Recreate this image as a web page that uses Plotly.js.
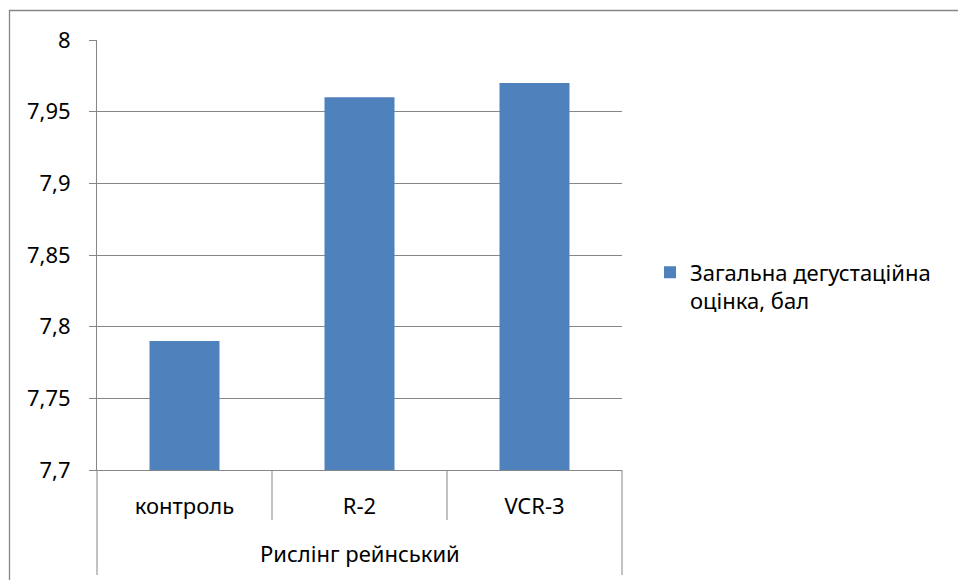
<!DOCTYPE html>
<html>
<head>
<meta charset="utf-8">
<script src="https://cdn.plot.ly/plotly-3.0.1.min.js"></script>
<style>html,body{margin:0;padding:0;background:#fff;}#chart{width:958px;height:580px;}</style>
</head>
<body>
<div id="chart"></div>
<script>
const groupLabel = "Рислінг рейнський";
const categories = ["контроль", "R-2", "VCR-3"];
const values = [7.79, 7.96, 7.97];
const seriesName = "Загальна дегустаційна<br>оцінка, бал";

const W = 958, H = 580;
const M = {l: 97, r: 336, t: 40, b: 110};
const PW = W - M.l - M.r, PH = H - M.t - M.b;
const px = v => v / PW;   // horizontal pixels -> paper
const py = v => v / PH;   // vertical pixels -> paper
const FONT = "'Noto Sans', 'Open Sans', sans-serif";
const GRID = "#868686";

const shapes = [];
// inner category dividers (between categories)
for (let i = 1; i < categories.length; i++) {
  shapes.push({type: "line", xref: "x", yref: "paper", x0: i - 0.5, x1: i - 0.5,
    y0: 0, y1: -py(50), line: {color: GRID, width: 1}});
}
// outer group dividers
[0, 1].forEach(x => shapes.push({type: "line", xref: "paper", yref: "paper",
  x0: x, x1: x, y0: 0, y1: -py(105), line: {color: GRID, width: 1}}));
// chart frame
shapes.push({type: "rect", xref: "paper", yref: "paper",
  x0: -px(M.l - 9.5), x1: px(W + 5 - M.l), y0: -py(H + 5 - M.t - PH), y1: 1 + py(M.t - 10.5),
  line: {color: GRID, width: 1.3}, fillcolor: "rgba(0,0,0,0)"});

const data = [{
  type: "bar", x: categories, y: values, name: seriesName,
  marker: {color: "#4F81BD"}, showlegend: true, hoverinfo: "none"
}];

const layout = {
  width: W, height: H,
  margin: M,
  paper_bgcolor: "#fff", plot_bgcolor: "#fff",
  separators: ", ",
  font: {family: FONT, size: 22, color: "#000"},
  bargap: 0.6,
  showlegend: true,
  legend: {x: px(650 - M.l), xanchor: "left", y: 1 - py(287 - M.t), yanchor: "middle",
    valign: "top",
    font: {family: FONT, size: 22, color: "#000"}, bgcolor: "rgba(0,0,0,0)",
    itemwidth: 30, tracegroupgap: 0},
  xaxis: {type: "category", showgrid: false, showline: true, linecolor: GRID, linewidth: 1,
    ticks: "", tickfont: {family: FONT, size: 22}, ticklabelstandoff: 17, fixedrange: true},
  yaxis: {range: [7.7, 8], dtick: 0.05, tick0: 7.7, showgrid: true, gridcolor: GRID, gridwidth: 1,
    showline: true, linecolor: GRID, linewidth: 1, ticks: "outside", ticklen: 7, tickcolor: GRID,
    tickfont: {family: FONT, size: 22}, ticklabelstandoff: 14, zeroline: false, fixedrange: true},
  shapes: shapes,
  annotations: [{text: groupLabel, xref: "paper", yref: "paper", x: 0.5, y: -py(553 - M.t - PH),
    xanchor: "center", yanchor: "middle", showarrow: false, font: {family: FONT, size: 22, color: "#000"}}]
};

Plotly.newPlot("chart", data, layout, {displayModeBar: false, staticPlot: true});
</script>
</body>
</html>
